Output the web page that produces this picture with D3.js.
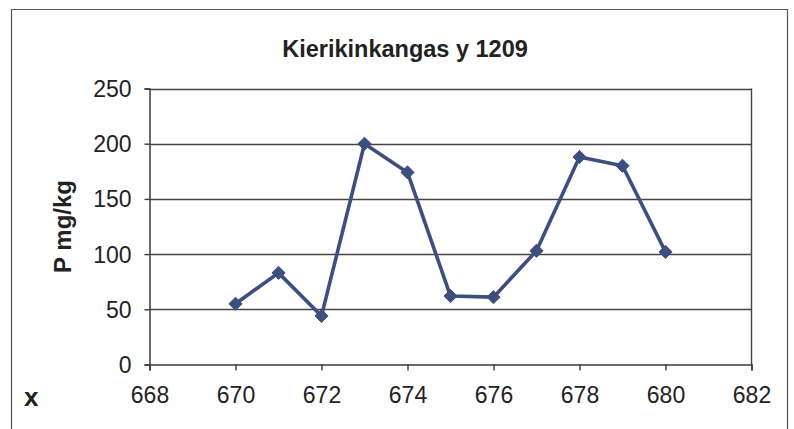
<!DOCTYPE html>
<html>
<head>
<meta charset="utf-8">
<script src="https://cdn.jsdelivr.net/npm/d3@7"></script>
<style>
  html, body { margin: 0; padding: 0; background: #fff; }
  svg { display: block; font-family: "Liberation Sans", Arial, sans-serif; }
</style>
</head>
<body>
<svg id="chart" width="794" height="429"></svg>
<script>
// Sample positions (x) and phosphorus content (P mg/kg)
const xValues = [670, 671, 672, 673, 674, 675, 676, 677, 678, 679, 680];
const pValues = [55, 83, 44, 200, 174, 62, 61, 103, 188, 180, 102];
const xTicks = [668, 670, 672, 674, 676, 678, 680, 682];
const yTicks = [0, 50, 100, 150, 200, 250];
const chartTitle = "Kierikinkangas y 1209";
const yTitle = "P mg/kg";
const xTitle = "x";

const svg = d3.select("#chart");
const W = 794, H = 429;
const plot = { left: 149.5, right: 751.5, top: 88.5, bottom: 364.5 };

const x = d3.scaleLinear().domain([668, 682]).range([plot.left, plot.right]);
const y = d3.scaleLinear().domain([0, 250]).range([plot.bottom, plot.top]);

const ink = "#3a3a3a";
const seriesColor = "#3c4f7e";

// Outer chart frame
svg.append("path")
  .attr("d", `M11.5,${H} V9.5 H787.5 V${H}`)
  .attr("fill", "none")
  .attr("stroke", "#555")
  .attr("stroke-width", 1.2);

// Horizontal gridlines
svg.append("g")
  .selectAll("line")
  .data(yTicks.filter(v => v > 0))
  .join("line")
  .attr("x1", plot.left).attr("x2", plot.right)
  .attr("y1", d => Math.round(y(d)) + 0.5).attr("y2", d => Math.round(y(d)) + 0.5)
  .attr("stroke", "#444").attr("stroke-width", 1.4);

// Right border of plot area
svg.append("line")
  .attr("x1", plot.right).attr("x2", plot.right)
  .attr("y1", plot.top).attr("y2", plot.bottom)
  .attr("stroke", "#444").attr("stroke-width", 1.4);

// Y axis
const yAxis = svg.append("g")
  .attr("transform", `translate(${plot.left},0)`)
  .call(d3.axisLeft(y).tickValues(yTicks).tickSize(5).tickPadding(13).tickFormat(d3.format("d")));
yAxis.select(".domain").attr("stroke", ink).attr("stroke-width", 1.5);
yAxis.selectAll(".tick line").attr("stroke", ink).attr("stroke-width", 1.4);
yAxis.selectAll("text")
  .attr("fill", "#222")
  .style("font-size", "23px")
  .attr("dy", "0.35em");

// X axis
const xAxis = svg.append("g")
  .attr("transform", `translate(0,${plot.bottom})`)
  .call(d3.axisBottom(x).tickValues(xTicks).tickSize(6).tickPadding(16).tickFormat(d3.format("d")));
xAxis.select(".domain").attr("stroke", ink).attr("stroke-width", 1.5);
xAxis.selectAll(".tick line").attr("stroke", ink).attr("stroke-width", 1.4);
xAxis.selectAll("text")
  .attr("fill", "#222")
  .style("font-size", "23px");

// Title
svg.append("text")
  .attr("x", 405).attr("y", 57)
  .attr("text-anchor", "middle")
  .attr("font-weight", "bold")
  .attr("font-size", 23.5)
  .attr("fill", "#222")
  .text(chartTitle);

// Y axis title
svg.append("text")
  .attr("transform", `translate(71,${(plot.top + plot.bottom) / 2}) rotate(-90)`)
  .attr("text-anchor", "middle")
  .attr("font-weight", "bold")
  .attr("font-size", 24)
  .attr("fill", "#222")
  .text(yTitle);

// X axis title
svg.append("text")
  .attr("x", 24).attr("y", 406)
  .attr("font-weight", "bold")
  .attr("font-size", 26)
  .attr("fill", "#222")
  .text(xTitle);

// Series line
const data = xValues.map((v, i) => ({ x: v, p: pValues[i] }));
svg.append("path")
  .datum(data)
  .attr("fill", "none")
  .attr("stroke", seriesColor)
  .attr("stroke-width", 3.6)
  .attr("stroke-linejoin", "round")
  .attr("d", d3.line().x(d => x(d.x)).y(d => y(d.p)));

// Diamond markers
svg.append("g")
  .selectAll("path")
  .data(data)
  .join("path")
  .attr("transform", d => `translate(${x(d.x)},${y(d.p)})`)
  .attr("d", d3.symbol(d3.symbolDiamond2, 110)())
  .attr("fill", seriesColor)
  .attr("stroke", seriesColor)
  .attr("stroke-width", 1);
</script>
</body>
</html>
